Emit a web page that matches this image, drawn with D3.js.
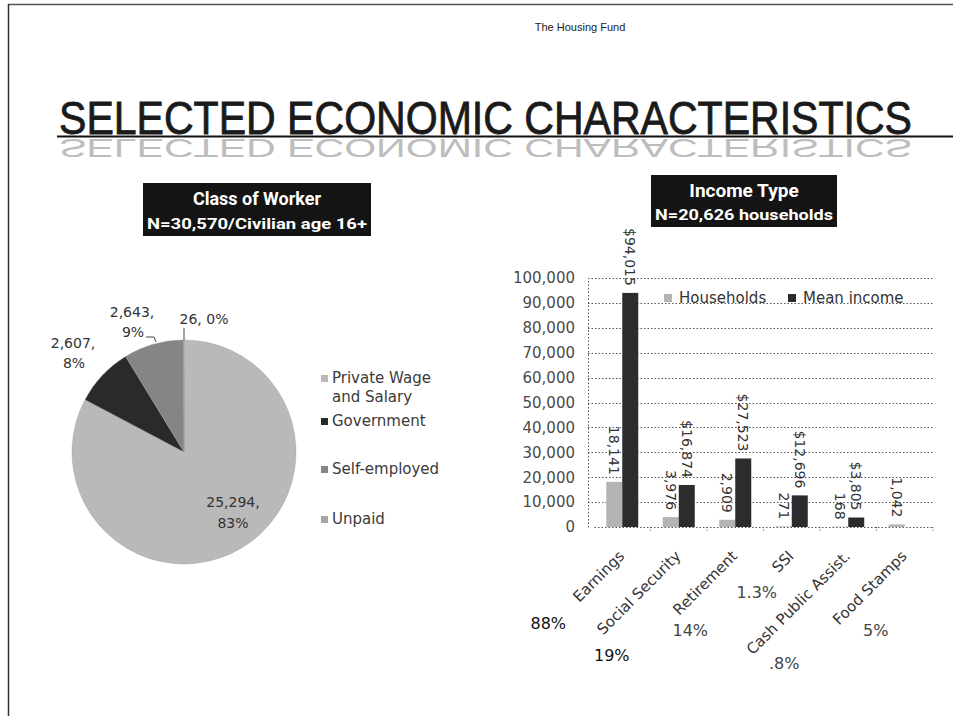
<!DOCTYPE html>
<html><head><meta charset="utf-8">
<script src="https://cdn.jsdelivr.net/npm/d3@7"></script>
<style>
html,body{margin:0;padding:0;background:#fff;}
svg{display:block;}
</style></head>
<body>
<svg id="chart" width="953" height="719"></svg>
<script>
// ---------- DATA ----------
const pageHeader = "The Housing Fund";
const pageTitle = "SELECTED ECONOMIC CHARACTERISTICS";

const pieTitle = "Class of Worker";
const pieSubtitle = "N=30,570/Civilian age 16+";
const workerClasses = ["Private Wage and Salary", "Government", "Self-employed", "Unpaid"];
const workerCounts = [25294, 2607, 2643, 26];
const workerPercents = ["83%", "8%", "9%", "0%"];

const barTitle = "Income Type";
const barSubtitle = "N=20,626 households";
const incomeTypes = ["Earnings", "Social Security", "Retirement", "SSI", "Cash Public Assist.", "Food Stamps"];
const households = [18141, 3976, 2909, 271, 168, 1042];
const meanIncome = [94015, 16874, 27523, 12696, 3805, null];
const householdShare = ["88%", "19%", "14%", "1.3%", ".8%", "5%"];
const seriesNames = ["Households", "Mean income"];
const yTicks = [0, 10000, 20000, 30000, 40000, 50000, 60000, 70000, 80000, 90000, 100000];

// ---------- LAYOUT / STYLE ----------
const svg = d3.select("#chart");
const FONT = "'DejaVu Sans', Verdana, sans-serif";
const NARROW = "'Liberation Sans Narrow', 'Arial Narrow', 'Liberation Sans', sans-serif";
const pieColors = ["#b9b9b9", "#2a2a2a", "#858585", "#a5a5a5"];
const barColors = ["#b4b4b4", "#2c2c2c"];

// page border
svg.append("line").attr("x1", 8).attr("x2", 953).attr("y1", 4.5).attr("y2", 4.5)
  .attr("stroke", "#555").attr("stroke-width", 1.5);
svg.append("line").attr("x1", 8.5).attr("x2", 8.5).attr("y1", 4).attr("y2", 716)
  .attr("stroke", "#333").attr("stroke-width", 1.5);

svg.append("text").attr("x", 580).attr("y", 31).attr("text-anchor", "middle")
  .attr("font-family", "'Liberation Sans', Arial, sans-serif").attr("font-size", 11).attr("fill", "#222")
  .text(pageHeader);

// title + reflection
const defs = svg.append("defs");
const grad = defs.append("linearGradient").attr("id", "fade").attr("gradientUnits", "userSpaceOnUse")
  .attr("x1", 0).attr("x2", 0).attr("y1", 139).attr("y2", 160);
grad.append("stop").attr("offset", "0%").attr("stop-color", "#8a8a8a");
grad.append("stop").attr("offset", "100%").attr("stop-color", "#e8e8e8");

const titleBaseline = 134;
svg.append("text").attr("x", 59).attr("y", titleBaseline)
  .attr("font-family", NARROW).attr("font-weight", "normal").attr("font-size", 46).attr("fill", "#1a1a1a")
  .attr("stroke", "#1a1a1a").attr("stroke-width", 0.8)
  .attr("textLength", 853).attr("lengthAdjust", "spacingAndGlyphs")
  .text(pageTitle);
// reflection: flipped and squashed below the underline
const reflScale = 0.55;
svg.append("text").attr("x", 59).attr("y", 0)
  .attr("transform", `translate(0,${139}) scale(1,${-reflScale})`)
  .attr("font-family", NARROW).attr("font-size", 46).attr("fill", "#bdbdbd")
  .attr("textLength", 853).attr("lengthAdjust", "spacingAndGlyphs")
  .attr("dominant-baseline", "auto")
  .text(pageTitle);
svg.append("line").attr("x1", 57).attr("x2", 953).attr("y1", 136.5).attr("y2", 136.5)
  .attr("stroke", "#111").attr("stroke-width", 2);

// title boxes
function titleBox(x, y, w, h, t1, s1, t2, s2, len2) {
  const g = svg.append("g");
  g.append("rect").attr("x", x).attr("y", y).attr("width", w).attr("height", h).attr("fill", "#141414");
  g.append("text").attr("x", x + w / 2).attr("y", y + h * 0.42).attr("text-anchor", "middle")
    .attr("font-family", "Roboto, 'Liberation Sans', sans-serif").attr("font-weight", "bold")
    .attr("font-size", s1).attr("fill", "#fff").text(t1);
  g.append("text").attr("x", x + w / 2).attr("y", y + h * 0.86).attr("text-anchor", "middle")
    .attr("font-family", "Roboto, 'Liberation Sans', sans-serif").attr("font-weight", "bold")
    .attr("font-size", s2).attr("fill", "#fff")
    .attr("textLength", len2).attr("lengthAdjust", "spacingAndGlyphs").text(t2);
}
titleBox(143, 183, 228, 53, pieTitle, 18, pieSubtitle, 14, 220);
titleBox(651, 175, 186, 52, barTitle, 19, barSubtitle, 15, 178);

// ---------- PIE ----------
const cx = 184, cy = 452, R = 112;
const pie = d3.pie().sort(null).value(d => d)(workerCounts);
const arc = d3.arc().innerRadius(0).outerRadius(R);
const pg = svg.append("g").attr("transform", `translate(${cx},${cy})`);
pg.selectAll("path").data(pie).join("path")
  .attr("d", arc).attr("fill", (d, i) => pieColors[i]).attr("stroke", "#999").attr("stroke-width", 0.4);

const lblStyle = s => s.attr("font-family", FONT).attr("font-size", 14).attr("fill", "#333");
svg.append("text").attr("x", 233).attr("y", 507).attr("text-anchor", "middle").call(lblStyle)
  .text(d3.format(",")(workerCounts[0]) + ",");
svg.append("text").attr("x", 233).attr("y", 528).attr("text-anchor", "middle").call(lblStyle)
  .text(workerPercents[0]);
svg.append("text").attr("x", 73).attr("y", 348).attr("text-anchor", "middle").call(lblStyle)
  .text(d3.format(",")(workerCounts[1]) + ",");
svg.append("text").attr("x", 74).attr("y", 368).attr("text-anchor", "middle").call(lblStyle)
  .text(workerPercents[1]);
svg.append("text").attr("x", 132).attr("y", 317).attr("text-anchor", "middle").call(lblStyle)
  .text(d3.format(",")(workerCounts[2]) + ",");
svg.append("text").attr("x", 133).attr("y", 337).attr("text-anchor", "middle").call(lblStyle)
  .text(workerPercents[2]);
svg.append("text").attr("x", 204).attr("y", 324).attr("text-anchor", "middle").call(lblStyle)
  .text(d3.format(",")(workerCounts[3]) + ", " + workerPercents[3]);
// leader lines
svg.append("path").attr("d", `M146,337 L154,337 L156,${cy - R + 2}`)
  .attr("fill", "none").attr("stroke", "#444").attr("stroke-width", 1);
svg.append("line").attr("x1", cx).attr("x2", cx).attr("y1", 328).attr("y2", cy - R)
  .attr("stroke", "#444").attr("stroke-width", 1);

// pie legend
const legendRows = [["Private Wage", "and Salary", 383], ["Government", null, 426],
                    ["Self-employed", null, 474], ["Unpaid", null, 524]];
legendRows.forEach((r, i) => {
  svg.append("rect").attr("x", 321).attr("y", r[2] - 8).attr("width", 7).attr("height", 7).attr("fill", pieColors[i]);
  svg.append("text").attr("x", 332).attr("y", r[2]).call(lblStyle).attr("font-size", 15).attr("fill", "#3a3a3a").text(r[0]);
  if (r[1]) svg.append("text").attr("x", 332).attr("y", r[2] + 19).call(lblStyle).attr("font-size", 15).attr("fill", "#3a3a3a").text(r[1]);
});

// ---------- BAR CHART ----------
const x = d3.scaleBand().domain(incomeTypes).range([594, 933]).padding(0);
const y = d3.scaleLinear().domain([0, 100000]).range([527, 278]);
const bw = 16;

const bg = svg.append("g");
bg.selectAll("line.grid").data(yTicks.filter(d => d > 0)).join("line")
  .attr("x1", 588).attr("x2", 933).attr("y1", d => Math.round(y(d)) + 0.5).attr("y2", d => Math.round(y(d)) + 0.5)
  .attr("stroke", "#555").attr("stroke-width", 1).attr("stroke-dasharray", "1.5,2");
const yAxis = d3.axisLeft(y).tickValues(yTicks).tickFormat(d3.format(",")).tickSize(0).tickPadding(13);
const ya = bg.append("g").attr("transform", "translate(588,0)").call(yAxis);
ya.select(".domain").attr("stroke", "#555").attr("stroke-dasharray", "1.5,2");
ya.selectAll("text").attr("font-family", FONT).attr("font-size", 15).attr("fill", "#4a4a4a");
const xa = bg.append("g").attr("transform", `translate(0,${y(0)})`)
  .call(d3.axisBottom(x).tickSize(0).tickFormat(""));
xa.select(".domain").attr("stroke", "#555").attr("stroke-dasharray", "1.5,2");
bg.selectAll("line.xt").data(incomeTypes).join("line")
  .attr("x1", d => x(d) + x.bandwidth()).attr("x2", d => x(d) + x.bandwidth())
  .attr("y1", y(0)).attr("y2", y(0) + 5).attr("stroke", "#555").attr("stroke-dasharray", "1,1.5");

const cxBand = d => x(d) + x.bandwidth() / 2;
bg.selectAll("rect.hh").data(incomeTypes).join("rect")
  .attr("x", d => cxBand(d) - bw).attr("width", bw)
  .attr("y", (d, i) => y(households[i])).attr("height", (d, i) => y(0) - y(households[i]))
  .attr("fill", barColors[0]);
bg.selectAll("rect.mi").data(incomeTypes.filter((d, i) => meanIncome[i] != null)).join("rect")
  .attr("x", d => cxBand(d)).attr("width", bw)
  .attr("y", d => y(meanIncome[incomeTypes.indexOf(d)]))
  .attr("height", d => y(0) - y(meanIncome[incomeTypes.indexOf(d)]))
  .attr("fill", barColors[1]);

const vlab = (xx, yy, txt) => bg.append("text")
  .attr("transform", `translate(${xx},${yy}) rotate(90)`).attr("text-anchor", "end")
  .attr("dominant-baseline", "central")
  .attr("font-family", FONT).attr("font-size", 14).attr("fill", "#333").text(txt);
incomeTypes.forEach((c, i) => {
  vlab(cxBand(c) - bw / 2, y(households[i]) - 7, d3.format(",")(households[i]));
  if (meanIncome[i] != null) vlab(cxBand(c) + bw / 2, y(meanIncome[i]) - 7, d3.format("$,")(meanIncome[i]));
});

incomeTypes.forEach(c => {
  bg.append("text").attr("transform", `translate(${cxBand(c) + 3},${y(0) + 30}) rotate(-45)`)
    .attr("text-anchor", "end").attr("font-family", FONT).attr("font-size", 15).attr("fill", "#333").text(c);
});

const shareOffsets = [[-74, 629], [-67, 661], [-45, 636], [-35, 598], [-64, 669], [-29, 636]];
incomeTypes.forEach((c, i) => {
  bg.append("text").attr("x", cxBand(c) + shareOffsets[i][0]).attr("y", shareOffsets[i][1])
    .attr("text-anchor", "middle").attr("font-family", FONT).attr("font-size", 16)
    .attr("fill", i < 2 ? "#111" : "#444").text(householdShare[i]);
});

[[664, seriesNames[0]], [788, seriesNames[1]]].forEach((l, i) => {
  bg.append("rect").attr("x", l[0]).attr("y", 294).attr("width", 8).attr("height", 8).attr("fill", barColors[i]);
  bg.append("text").attr("x", l[0] + 15).attr("y", 303).attr("font-family", FONT).attr("font-size", 15)
    .attr("fill", "#333").text(l[1]);
});
</script>
</body></html>
